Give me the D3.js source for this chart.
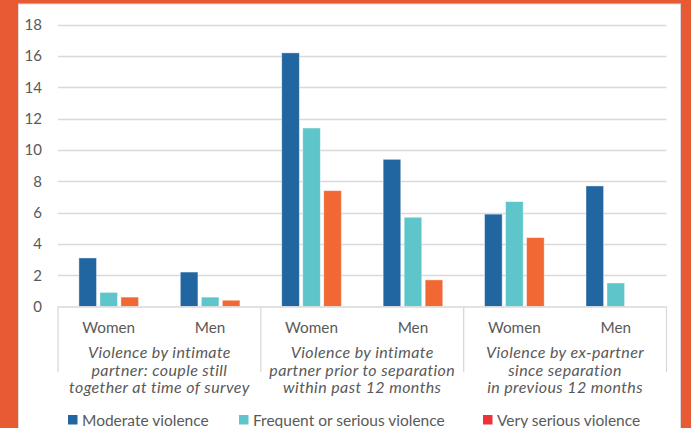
<!DOCTYPE html>
<html>
<head>
<meta charset="utf-8">
<script src="https://cdn.jsdelivr.net/npm/d3@7"></script>
<style>
  html, body { margin: 0; padding: 0; background: #fff; }
  svg { display: block; }
  text { font-family: Lato, "Open Sans", sans-serif; fill: #595959; }
</style>
</head>
<body>
<svg id="chart" width="691" height="428"></svg>
<script>
// Survey groups and the two sub-categories within each
const groups = [
  ["Violence by intimate", "partner: couple still", "together at time of survey"],
  ["Violence by intimate", "partner prior to separation", "within past 12 months"],
  ["Violence by ex-partner", "since separation", "in previous 12 months"]
];
const sexes = ["Women", "Men"];
const seriesNames = ["Moderate violence", "Frequent or serious violence", "Very serious violence"];

// Percentages, one array per series, ordered group by group (Women, Men)
const moderate = [3.1, 2.2, 16.2, 9.4, 5.9, 7.7];
const frequent = [0.9, 0.6, 11.4, 5.7, 6.7, 1.5];
const verySerious = [0.6, 0.4, 7.4, 1.7, 4.4, null];

const yTicks = [0, 2, 4, 6, 8, 10, 12, 14, 16, 18];

const barColors = ["#2166a0", "#5ec6ca", "#f26835"];
const legendColors = ["#2166a0", "#5ec6ca", "#ee3338"];
const frame = "#e85a33";

const svg = d3.select("#chart");
const W = 691, H = 428;

// orange frame around the white panel
svg.append("rect").attr("x", 0).attr("y", 0).attr("width", W).attr("height", H).attr("fill", frame);
svg.append("rect").attr("x", 18.5).attr("y", 4).attr("width", 662).attr("height", H)
  .attr("fill", "#fff").attr("stroke", "#d9d9d9").attr("stroke-width", 1);

const plot = { left: 58, right: 666.5, top: 24.7, bottom: 306.5 };

const y = d3.scaleLinear().domain([0, 18]).range([plot.bottom, plot.top]);

const cats = [];
groups.forEach((g, gi) => sexes.forEach(s => cats.push(gi + "-" + s)));
const x = d3.scaleBand().domain(cats).range([plot.left, plot.right]).paddingInner(0).paddingOuter(0);
const slot = 21;
const barW = 17.6;

// horizontal gridlines
svg.append("g").selectAll("line").data(yTicks.filter(t => t > 0)).join("line")
  .attr("x1", plot.left).attr("x2", plot.right)
  .attr("y1", d => Math.round(y(d)) + 0.5).attr("y2", d => Math.round(y(d)) + 0.5)
  .attr("stroke", "#d9d9d9").attr("stroke-width", 1.3);

// y axis labels
const yAxis = d3.axisLeft(y).tickValues(yTicks).tickSize(0).tickPadding(16);
const gy = svg.append("g").attr("transform", `translate(${plot.left},0)`).call(yAxis);
gy.select(".domain").remove();
gy.selectAll("text").attr("font-size", 15).style("font-family", "Lato, sans-serif").attr("fill", "#595959");

// bars
const series = [moderate, frequent, verySerious];
series.forEach((vals, si) => {
  svg.append("g").selectAll("rect")
    .data(vals.map((v, i) => ({ v, c: cats[i] })).filter(d => d.v != null && d.v > 0))
    .join("rect")
    .attr("x", d => x(d.c) + x.bandwidth() / 2 - 1.5 * slot + si * slot + (slot - barW) / 2)
    .attr("y", d => y(d.v))
    .attr("width", barW)
    .attr("height", d => y(0) - y(d.v))
    .attr("fill", barColors[si])
    .attr("stroke", "#ffffff").attr("stroke-opacity", 0.5).attr("stroke-width", 0.8);
});

// category axis baseline and group separators
svg.append("line").attr("x1", plot.left).attr("x2", plot.right)
  .attr("y1", plot.bottom + 0.5).attr("y2", plot.bottom + 0.5)
  .attr("stroke", "#d9d9d9").attr("stroke-width", 1.3);
const sepX = [0, 2, 4, 6].map(i => i < 6 ? x(cats[i]) : plot.right);
svg.append("g").selectAll("line").data(sepX).join("line")
  .attr("x1", d => d).attr("x2", d => d)
  .attr("y1", plot.bottom).attr("y2", 372)
  .attr("stroke", "#d9d9d9").attr("stroke-width", 1.3);

// sub-category labels
svg.append("g").selectAll("text").data(cats).join("text")
  .attr("x", d => x(d) + x.bandwidth() / 2)
  .attr("y", 333)
  .attr("text-anchor", "middle")
  .attr("font-size", 15.3)
  .text(d => d.split("-")[1]);

// group labels (italic, three lines)
groups.forEach((lines, gi) => {
  const cx = x(cats[gi * 2]) + x.bandwidth();
  svg.append("text")
    .attr("x", cx).attr("y", 358)
    .attr("text-anchor", "middle")
    .attr("font-size", 16)
    .attr("font-style", "italic")
    .attr("letter-spacing", 0.4)
    .selectAll("tspan").data(lines).join("tspan")
    .attr("x", cx)
    .attr("dy", (d, i) => i === 0 ? 0 : 17.5)
    .text(d => d);
});

// legend
const legendX = [68, 239, 483];
const lg = svg.append("g");
seriesNames.forEach((name, i) => {
  lg.append("rect").attr("x", legendX[i]).attr("y", 415).attr("width", 9.5).attr("height", 9.5)
    .attr("fill", legendColors[i]);
  lg.append("text").attr("x", legendX[i] + 14).attr("y", 425.5)
    .attr("font-size", 15.5).text(name);
});
</script>
</body>
</html>
